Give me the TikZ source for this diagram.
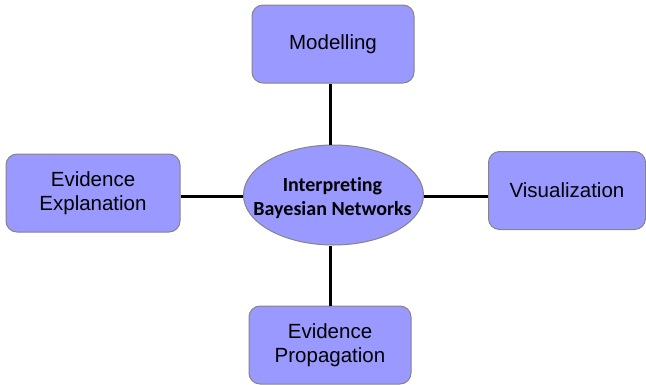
\documentclass[tikz,border=0pt]{standalone}
\usepackage{fontspec}
\setmainfont{Liberation Sans}
\newfontfamily\calib[Ligatures={NoCommon}]{Carlito}
\usetikzlibrary{shapes.geometric}
\definecolor{boxfill}{HTML}{9999FF}
\definecolor{boxline}{HTML}{858585}
\begin{document}
\begin{tikzpicture}[x=1pt,y=-1pt,
  topic/.style={draw=boxline, line width=1pt, fill=boxfill, rounded corners=11pt,
    minimum width=162pt, minimum height=78pt, align=center,
    font=\fontsize{20.5}{23.5}\selectfont, inner sep=0pt},
  hub/.style={ellipse, draw=boxline, line width=1pt, fill=boxfill,
    minimum width=180pt, minimum height=100pt, inner sep=0pt},
  hubtext/.style={align=center, inner sep=0pt,
    font=\calib\bfseries\fontsize{20}{24}\selectfont},
  link/.style={line width=3pt, black}]
\useasboundingbox (0,0) rectangle (646,384);
\node[hub] (hub) at (333.5,195) {};
\node[hubtext] (hubtxt) at (332.5,198) {Interpreting\\Bayesian Networks};
\node[topic] (model) at (333,44) {Modelling};
\node[topic, minimum width=157pt] (vis) at (567,190.5) {Visualization};
\node[topic, minimum width=174pt] (expl) at (93,193) {Evidence\\Explanation};
\node[topic] (prop) at (330,345) {Evidence\\Propagation};
\draw[link] (hub.north -| 330,0) -- (model.south -| 330,0);
\draw[link] (hub.south -| 330,0) -- (prop.north -| 330,0);
\draw[link] (expl.east |- 0,196) -- (hub.west |- 0,196);
\draw[link] (hub.east |- 0,196) -- (vis.west |- 0,196);
\end{tikzpicture}
\end{document}
